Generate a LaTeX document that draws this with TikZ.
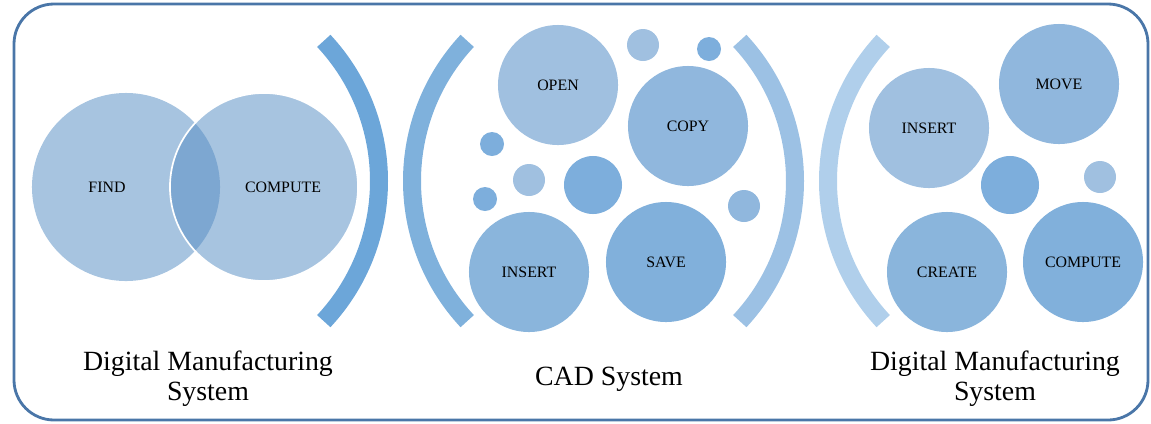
\documentclass[tikz,border=0pt]{standalone}
\usepackage{fontspec}
\setmainfont{Liberation Serif}
\usepackage{xcolor}
\usetikzlibrary{positioning}
\definecolor{framebl}{HTML}{4A76A8}
\definecolor{vennbl}{HTML}{A7C4E0}
\definecolor{vennov}{HTML}{598FC4}
\definecolor{arcA}{HTML}{6CA6D9}
\definecolor{arcB}{HTML}{7FB1DC}
\definecolor{arcC}{HTML}{9CC1E4}
\definecolor{arcD}{HTML}{B0CFEB}
\definecolor{bubA}{HTML}{A0C0E0}
\definecolor{bubB}{HTML}{90B7DD}
\definecolor{bubC}{HTML}{8AB5DC}
\definecolor{bubD}{HTML}{81B0DB}
\definecolor{bubE}{HTML}{7DAEDC}
\tikzset{
  vennset/.style={circle,inner sep=0pt,minimum size=4.7cm},
  bubble/.style={circle,inner sep=0pt,minimum size=3cm,
                 font=\fontsize{11.3}{13}\selectfont},
  midbubble/.style={circle,inner sep=0pt,minimum size=1.45cm},
  dotbubble/.style={circle,inner sep=0pt,minimum size=0.8cm},
  tinybubble/.style={circle,inner sep=0pt,minimum size=0.6cm},
  bracket/.style={line width=0.45cm,line cap=butt},
  setlabel/.style={font=\fontsize{11.3}{13}\selectfont},
  sysname/.style={align=center,font=\fontsize{19.8}{21.3}\selectfont}
}

\begin{document}
\begin{tikzpicture}[x=0.025cm,y=-0.025cm]
  \useasboundingbox (0,0) rectangle (1151,423);
  \draw[framebl,line width=2pt,rounded corners=1cm] (14,4) rectangle (1148,420);

  % venn pair, the second set is see-through so the overlap comes out darker
  \node[vennset,fill=vennbl] (find) at (126,187) {};
  \node[vennset,fill=vennov,fill opacity=0.53,
        draw=white,line width=1.2pt] (compute) at (264,187) {};
  \node[setlabel] (findtxt) at (107,187) {FIND};
  \node[setlabel] (computetxt) at (283,187) {COMPUTE};

  % brackets
  \draw[bracket,arcA] (173.5,181) ++(-43:205.5) arc (-43:43:205.5);
  \draw[bracket,arcB] (617.5,181) ++(137:205.5) arc (137:223:205.5);
  \draw[bracket,arcC] (589.5,181) ++(-43:205.5) arc (-43:43:205.5);
  \draw[bracket,arcD] (1033.5,181) ++(137:205.5) arc (137:223:205.5);

  % CAD bubbles
  \node[bubble,fill=bubA] (open) at (558,85) {OPEN};
  \node[bubble,fill=bubB] (copy) at (688,126) {COPY};
  \node[bubble,fill=bubC] (insertcad) at (529,272) {INSERT};
  \node[bubble,fill=bubD] (save) at (666,262) {SAVE};
  \node[midbubble,fill=bubE] (hub) at (593,185) {};
  \node[dotbubble,fill=bubA] (d1) at (643,45) {};
  \node[tinybubble,fill=bubE] (d2) at (709,49) {};
  \node[tinybubble,fill=bubE] (d3) at (492,144) {};
  \node[dotbubble,fill=bubA] (d4) at (529,180) {};
  \node[tinybubble,fill=bubE] (d5) at (485,199) {};
  \node[dotbubble,fill=bubB] (d6) at (744,206) {};

  % manufacturing bubbles
  \node[bubble,fill=bubA] (insertdm) at (929,128) {INSERT};
  \node[bubble,fill=bubB] (move) at (1059,84) {MOVE};
  \node[bubble,fill=bubC] (create) at (947,272) {CREATE};
  \node[bubble,fill=bubD] (computedm) at (1083,262) {COMPUTE};
  \node[midbubble,fill=bubE] (hubdm) at (1010,185) {};
  \node[dotbubble,fill=bubA] (e1) at (1100,177) {};

  % captions
  \node[sysname] (leftname) at (208,379) {Digital Manufacturing\\System};
  \node[sysname,anchor=base] (cadname) at (609,385) {CAD System};
  \node[sysname] (rightname) at (995,379) {Digital Manufacturing\\System};
\end{tikzpicture}
\end{document}
